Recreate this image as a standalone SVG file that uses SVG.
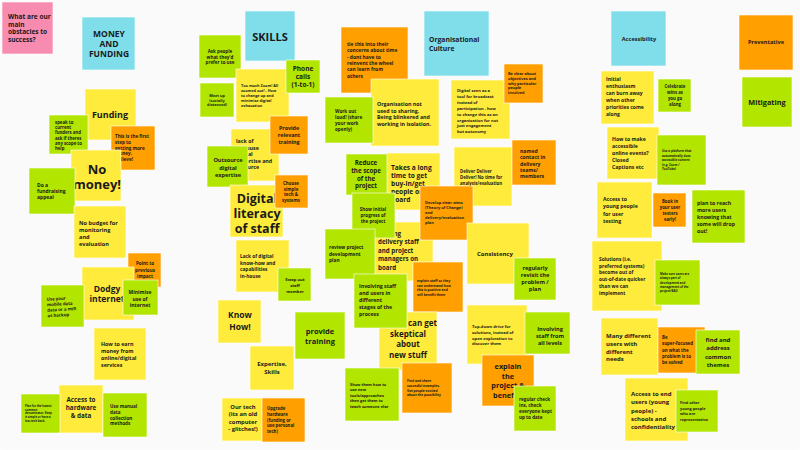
<svg xmlns="http://www.w3.org/2000/svg" width="800" height="450" viewBox="0 0 800 450">
<style>
text{font-family:"Open Sans","Liberation Sans",sans-serif;font-weight:bold;fill:#1a1a1a}
.y{fill:#ffeb3b}.g{fill:#b2e600}.o{fill:#ff9f00}.b{fill:#80deea}.p{fill:#f78bb0}
.m{text-anchor:middle}
rect{stroke:#fff;stroke-width:0.6}
</style>
<rect width="800" height="450" fill="#fafafa" stroke="none"/>
<g id="obstacles"><rect class="p" x="2" y="2" width="51" height="52"/><text font-size="6.5" x="8" y="19"><tspan x="8">What are our</tspan><tspan x="8" dy="7.5">main</tspan><tspan x="8" dy="7.5">obstacles to</tspan><tspan x="8" dy="7.5">success?</tspan></text></g>
<g id="money"><rect class="b" x="82" y="17" width="53" height="53"/><text class="m" font-size="8.5" x="109" y="37"><tspan x="109">MONEY</tspan><tspan x="109" dy="10">AND</tspan><tspan x="109" dy="10">FUNDING</tspan></text></g>
<g id="funding"><rect class="y" x="85" y="89" width="51" height="51"/><text class="m" font-size="9" x="110" y="118">Funding</text></g>
<g id="speak"><rect class="g" x="49" y="115" width="39" height="39"/><text font-size="4.3" x="55" y="124"><tspan x="55">speak to</tspan><tspan x="55" dy="5.2">current</tspan><tspan x="55" dy="5.2">funders and</tspan><tspan x="55" dy="5.2">ask if theres</tspan><tspan x="55" dy="5.2">any scope to</tspan><tspan x="55" dy="5.2">help</tspan></text></g>
<g id="firststep"><rect class="o" x="111" y="126" width="44" height="44"/><text font-size="4.6" x="115" y="138"><tspan x="115">This is the first</tspan><tspan x="115" dy="5.8">step to</tspan><tspan x="115" dy="5.8">getting more</tspan><tspan x="115" dy="5.8">money.</tspan><tspan x="115" dy="5.8">Believe!</tspan></text></g>
<g id="nomoney"><rect class="y" x="71" y="150" width="50" height="51"/><text class="m" font-size="13" x="97" y="174"><tspan x="97">No</tspan><tspan x="97" dy="15">money!</tspan></text></g>
<g id="appeal"><rect class="g" x="29" y="168" width="46" height="46"/><text font-size="5" x="37" y="187"><tspan x="37">Do a</tspan><tspan x="37" dy="6.2">fundraising</tspan><tspan x="37" dy="6.2">appeal</tspan></text></g>
<g id="nobudget"><rect class="y" x="74" y="206" width="52" height="52"/><text font-size="5.6" x="79" y="225"><tspan x="79">No budget for</tspan><tspan x="79" dy="7">monitoring</tspan><tspan x="79" dy="7">and</tspan><tspan x="79" dy="7">evaluation</tspan></text></g>
<g id="point"><rect class="o" x="128" y="253" width="33" height="34"/><text class="m" font-size="4.6" x="145" y="265"><tspan x="145">Point to</tspan><tspan x="145" dy="6.5">previous</tspan><tspan x="145" dy="6.5">impact</tspan></text></g>
<g id="dodgy"><rect class="y" x="82" y="267" width="52" height="53"/><text class="m" font-size="8.5" x="107" y="292"><tspan x="107">Dodgy</tspan><tspan x="107" dy="10">internet</tspan></text></g>
<g id="mobile"><rect class="g" x="41" y="285" width="43" height="42"/><text font-size="4.3" x="47" y="300" transform="rotate(-3 60 305)"><tspan x="47">Use your</tspan><tspan x="47" dy="5.5">mobile data</tspan><tspan x="47" dy="5.5">data or a mifi</tspan><tspan x="47" dy="5.5">as backup</tspan></text></g>
<g id="minimise"><rect class="g" x="123" y="280" width="35" height="35"/><text class="m" font-size="5" x="140" y="294"><tspan x="140">Minimise</tspan><tspan x="140" dy="6.5">use of</tspan><tspan x="140" dy="6.5">internet</tspan></text></g>
<g id="earn"><rect class="y" x="94" y="328" width="52" height="52"/><text font-size="5.3" x="101" y="346"><tspan x="101">How to earn</tspan><tspan x="101" dy="7">money from</tspan><tspan x="101" dy="7">online/digital</tspan><tspan x="101" dy="7">services</tspan></text></g>
<g id="hardware"><rect class="y" x="59" y="385" width="44" height="48"/><text class="m" font-size="6.3" x="81" y="402"><tspan x="81">Access to</tspan><tspan x="81" dy="8">hardware</tspan><tspan x="81" dy="8">&amp; data</tspan></text></g>
<g id="lowest"><rect class="g" x="21" y="394" width="39" height="39"/><text font-size="2.8" x="25" y="407"><tspan x="25">Plan for the lowest</tspan><tspan x="25" dy="3.7">common</tspan><tspan x="25" dy="3.7">denominator. Keep</tspan><tspan x="25" dy="3.7">it simple or have a</tspan><tspan x="25" dy="3.7">low-tech back.</tspan></text></g>
<g id="manual"><rect class="g" x="103" y="393" width="44" height="44"/><text font-size="4.6" x="110" y="408"><tspan x="110">Use manual</tspan><tspan x="110" dy="5.8">data</tspan><tspan x="110" dy="5.8">collection</tspan><tspan x="110" dy="5.8">methods</tspan></text></g>

<g id="skills"><rect class="b" x="245" y="11" width="50" height="50"/><text class="m" font-size="11" x="270" y="41">SKILLS</text></g>
<g id="askpeople"><rect class="g" x="199" y="35" width="42" height="43"/><text class="m" font-size="4.5" x="220" y="53"><tspan x="220">Ask people</tspan><tspan x="220" dy="5.5">what they'd</tspan><tspan x="220" dy="5.5">prefer to use</tspan></text></g>
<g id="zoom"><rect class="y" x="236" y="69" width="53" height="53"/><text font-size="3.8" x="241" y="87"><tspan x="241">Too much Zoom! All</tspan><tspan x="241" dy="5">zoomed out! - How</tspan><tspan x="241" dy="5">to change up and</tspan><tspan x="241" dy="5">minimise digital</tspan><tspan x="241" dy="5">exhaustion</tspan></text></g>
<g id="phone"><rect class="g" x="286" y="60" width="34" height="33"/><text class="m" font-size="6.5" x="303" y="71"><tspan x="303">Phone</tspan><tspan x="303" dy="8">calls</tspan><tspan x="303" dy="8">(1-to-1)</tspan></text></g>
<g id="meetup"><rect class="g" x="200" y="83" width="34" height="34"/><text class="m" font-size="3.8" x="217" y="97"><tspan x="217">Meet up</tspan><tspan x="217" dy="4.5">(socially</tspan><tspan x="217" dy="4.5">distanced)</tspan></text></g>
<g id="inhouse"><rect class="y" x="231" y="129" width="48" height="52"/><text font-size="5.3" x="236" y="143"><tspan x="236">lack of</tspan><tspan x="236" dy="6.6">in-house</tspan><tspan x="236" dy="6.6">digital</tspan><tspan x="236" dy="6.6">expertise and</tspan><tspan x="236" dy="6.6">resource</tspan></text></g>
<g id="relevant"><rect class="o" x="270" y="116" width="38" height="38"/><text class="m" font-size="5.3" x="289" y="130"><tspan x="289">Provide</tspan><tspan x="289" dy="6.8">relevant</tspan><tspan x="289" dy="6.8">training</tspan></text></g>
<g id="outsource"><rect class="g" x="207" y="146" width="41" height="41"/><text class="m" font-size="5.6" x="228" y="162"><tspan x="228">Outsource</tspan><tspan x="228" dy="7.5">digital</tspan><tspan x="228" dy="7.5">expertise</tspan></text></g>
<g id="literacy"><rect class="y" x="230" y="185" width="53" height="52"/><text class="m" font-size="12.5" x="257" y="203"><tspan x="257">Digital</tspan><tspan x="257" dy="15">literacy</tspan><tspan x="257" dy="15">of staff</tspan></text></g>
<g id="simple"><rect class="o" x="275" y="175" width="33" height="33"/><text class="m" font-size="4.4" x="291" y="185"><tspan x="291">Choose</tspan><tspan x="291" dy="5.6">simple</tspan><tspan x="291" dy="5.6">tech &amp;</tspan><tspan x="291" dy="5.6">systems</tspan></text></g>
<g id="knowhow"><rect class="y" x="236" y="240" width="53" height="52"/><text font-size="4.8" x="240" y="258"><tspan x="240">Lack of digital</tspan><tspan x="240" dy="6.5">know-how and</tspan><tspan x="240" dy="6.5">capabilities</tspan><tspan x="240" dy="6.5">in-house</tspan></text></g>
<g id="swap"><rect class="g" x="278" y="268" width="33" height="33"/><text class="m" font-size="4.2" x="295" y="281"><tspan x="295">Swap out</tspan><tspan x="295" dy="5.8">staff</tspan><tspan x="295" dy="5.8">member</tspan></text></g>
<g id="knowhow2"><rect class="y" x="218" y="300" width="43" height="43"/><text class="m" font-size="8.5" x="240" y="318"><tspan x="240">Know</tspan><tspan x="240" dy="12">How!</tspan></text></g>
<g id="providetraining"><rect class="g" x="295" y="312" width="50" height="47"/><text class="m" font-size="7.5" x="320" y="334"><tspan x="320">provide</tspan><tspan x="320" dy="9.5">training</tspan></text></g>
<g id="expertise"><rect class="y" x="250" y="346" width="44" height="44"/><text class="m" font-size="6" x="272" y="366"><tspan x="272">Expertise,</tspan><tspan x="272" dy="7.5">Skills</tspan></text></g>
<g id="ourtech"><rect class="y" x="222" y="398" width="40" height="43"/><text class="m" font-size="5.8" x="243" y="409"><tspan x="243">Our tech</tspan><tspan x="243" dy="7.3">(its an old</tspan><tspan x="243" dy="7.3">computer</tspan><tspan x="243" dy="7.3">- glitches!)</tspan></text></g>
<g id="upgrade"><rect class="o" x="262" y="398" width="43" height="44"/><text font-size="4.3" x="267" y="410"><tspan x="267">Upgrade</tspan><tspan x="267" dy="5.8">hardware</tspan><tspan x="267" dy="5.8">(funding or</tspan><tspan x="267" dy="5.8">use personal</tspan><tspan x="267" dy="5.8">tech)</tspan></text></g>

<g id="culture"><rect class="b" x="424" y="11" width="65" height="65"/><text font-size="6.8" x="429" y="42"><tspan x="429">Organisational</tspan><tspan x="429" dy="8.5">Culture</tspan></text></g>
<g id="tiethis"><rect class="o" x="341" y="27" width="67" height="66"/><text font-size="4.9" x="347" y="46"><tspan x="347">tie this into their</tspan><tspan x="347" dy="6.3">concerns about time</tspan><tspan x="347" dy="6.3">- dont have to</tspan><tspan x="347" dy="6.3">reinvent the wheel</tspan><tspan x="347" dy="6.3">can learn from</tspan><tspan x="347" dy="6.3">others</tspan></text></g>
<g id="sharing"><rect class="y" x="371" y="79" width="68" height="67"/><text font-size="5.3" x="377" y="106"><tspan x="377">Organisation not</tspan><tspan x="377" dy="6.7">used to sharing.</tspan><tspan x="377" dy="6.7">Being blinkered and</tspan><tspan x="377" dy="6.7">working in isolation.</tspan></text></g>
<g id="workout"><rect class="g" x="325" y="97" width="48" height="46"/><text font-size="4.6" x="335" y="113"><tspan x="335">Work out</tspan><tspan x="335" dy="6">loud! (share</tspan><tspan x="335" dy="6">your work</tspan><tspan x="335" dy="6">openly)</tspan></text></g>
<g id="digitalseen"><rect class="y" x="451" y="80" width="59" height="59"/><text font-size="4.1" x="457" y="92"><tspan x="457">Digital seen as a</tspan><tspan x="457" dy="5.9">tool for broadcast</tspan><tspan x="457" dy="5.9">instead of</tspan><tspan x="457" dy="5.9">participation - how</tspan><tspan x="457" dy="5.9">to change this as an</tspan><tspan x="457" dy="5.9">organisation for not</tspan><tspan x="457" dy="5.9">just engagement</tspan><tspan x="457" dy="5.9">but autonomy</tspan></text></g>
<g id="beclear"><rect class="o" x="504" y="64" width="39" height="39"/><text font-size="3.9" x="508" y="75"><tspan x="508">Be clear about</tspan><tspan x="508" dy="4.8">objectives and</tspan><tspan x="508" dy="4.8">why particular</tspan><tspan x="508" dy="4.8">people</tspan><tspan x="508" dy="4.8">involved</tspan></text></g>
<g id="takeslong"><rect class="y" x="386" y="153" width="54" height="57"/><text font-size="6.6" x="391" y="170"><tspan x="391">Takes a long</tspan><tspan x="391" dy="8">time to get</tspan><tspan x="391" dy="8">buy-in/get</tspan><tspan x="391" dy="8">people on</tspan><tspan x="391" dy="8">board</tspan></text></g>
<g id="reduce"><rect class="g" x="346" y="154" width="41" height="41"/><text class="m" font-size="6.2" x="366" y="165"><tspan x="366">Reduce</tspan><tspan x="366" dy="7.8">the scope</tspan><tspan x="366" dy="7.8">of the</tspan><tspan x="366" dy="7.8">project</tspan></text></g>
<g id="deliver"><rect class="y" x="454" y="147" width="58" height="59"/><text font-size="4.3" x="460" y="173"><tspan x="460">Deliver Deliver</tspan><tspan x="460" dy="5.8">Deliver! No time for</tspan><tspan x="460" dy="5.8">analysis/evaluation</tspan></text></g>
<g id="named"><rect class="o" x="512" y="140" width="44" height="45"/><text font-size="5.1" x="520" y="153"><tspan x="520">named</tspan><tspan x="520" dy="6.3">contact in</tspan><tspan x="520" dy="6.3">delivery</tspan><tspan x="520" dy="6.3">teams/</tspan><tspan x="520" dy="6.3">members</tspan></text></g>
<g id="gettingstaff"><rect class="y" x="374" y="222" width="59" height="59"/><text font-size="6.2" x="378" y="236"><tspan x="378">Getting</tspan><tspan x="378" dy="8.4">delivery staff</tspan><tspan x="378" dy="8.4">and project</tspan><tspan x="378" dy="8.4">managers on</tspan><tspan x="378" dy="8.4">board</tspan></text></g>
<g id="aims"><rect class="o" x="420" y="186" width="53" height="54"/><text font-size="4" x="425" y="204"><tspan x="425">Develop clear aims</tspan><tspan x="425" dy="5">(Theory of Change)</tspan><tspan x="425" dy="5">and</tspan><tspan x="425" dy="5">delivery/evaluation</tspan><tspan x="425" dy="5">plan</tspan></text></g>
<g id="showinitial"><rect class="g" x="352" y="193" width="43" height="45"/><text class="m" font-size="4.5" x="373" y="211"><tspan x="373">Show initial</tspan><tspan x="373" dy="6">progress of</tspan><tspan x="373" dy="6">the project</tspan></text></g>
<g id="review"><rect class="g" x="325" y="229" width="50" height="50"/><text font-size="4.8" x="329" y="249"><tspan x="329">review project</tspan><tspan x="329" dy="6.6">development</tspan><tspan x="329" dy="6.6">plan</tspan></text></g>
<g id="consistency"><rect class="y" x="467" y="223" width="62" height="61"/><text font-size="6" x="477" y="256">Consistency</text></g>
<g id="revisit"><rect class="g" x="514" y="258" width="42" height="42"/><text class="m" font-size="5.6" x="535" y="270"><tspan x="535">regularly</tspan><tspan x="535" dy="7">revisit the</tspan><tspan x="535" dy="7">problem /</tspan><tspan x="535" dy="7">plan</tspan></text></g>
<g id="explainstaff"><rect class="o" x="413" y="262" width="50" height="50"/><text font-size="3.3" x="417" y="282"><tspan x="417">explain staff so they</tspan><tspan x="417" dy="4.6">can understand how</tspan><tspan x="417" dy="4.6">this is positive and</tspan><tspan x="417" dy="4.6">will benefit them</tspan></text></g>
<g id="skeptical"><rect class="y" x="379" y="312" width="58" height="58"/><text class="m" font-size="8" x="408" y="326"><tspan x="408">People can get</tspan><tspan x="408" dy="10.7">skeptical</tspan><tspan x="408" dy="10.7">about</tspan><tspan x="408" dy="10.7">new stuff</tspan></text></g>
<g id="involving"><rect class="g" x="354" y="274" width="53" height="54"/><text font-size="5.2" x="359" y="288"><tspan x="359">Involving staff</tspan><tspan x="359" dy="7">and users in</tspan><tspan x="359" dy="7">different</tspan><tspan x="359" dy="7">stages of the</tspan><tspan x="359" dy="7">process</tspan></text></g>
<g id="topdown"><rect class="y" x="467" y="305" width="60" height="59"/><text font-size="4.1" x="472" y="328"><tspan x="472">Top-down drive for</tspan><tspan x="472" dy="5.8">solutions, instead of</tspan><tspan x="472" dy="5.8">open exploration to</tspan><tspan x="472" dy="5.8">discover them</tspan></text></g>
<g id="alllevels"><rect class="g" x="525" y="312" width="45" height="42"/><text class="m" font-size="5.6" x="550" y="331"><tspan x="550">Involving</tspan><tspan x="550" dy="7">staff from</tspan><tspan x="550" dy="7">all levels</tspan></text></g>
<g id="explainproject"><rect class="o" x="482" y="355" width="52" height="51"/><text class="m" font-size="7.3" x="508" y="369"><tspan x="508">explain</tspan><tspan x="508" dy="9.5">the</tspan><tspan x="508" dy="9.5">project &amp;</tspan><tspan x="508" dy="9.5">benefits</tspan></text></g>
<g id="showthem"><rect class="g" x="345" y="368" width="54" height="53"/><text font-size="3.9" x="350" y="386"><tspan x="350">Show them how to</tspan><tspan x="350" dy="5.4">use new</tspan><tspan x="350" dy="5.4">tools/approaches</tspan><tspan x="350" dy="5.4">then get them to</tspan><tspan x="350" dy="5.4">teach someone else</tspan></text></g>
<g id="findshare"><rect class="o" x="402" y="363" width="50" height="50"/><text font-size="3.3" x="407" y="382"><tspan x="407">Find and share</tspan><tspan x="407" dy="4.8">succesful examples.</tspan><tspan x="407" dy="4.8">Get people excited</tspan><tspan x="407" dy="4.8">about the possibility</tspan></text></g>
<g id="checkins"><rect class="g" x="514" y="386" width="42" height="45"/><text font-size="4.6" x="519" y="401"><tspan x="519">regular check</tspan><tspan x="519" dy="6">ins, check</tspan><tspan x="519" dy="6">everyone kept</tspan><tspan x="519" dy="6">up to date</tspan></text></g>

<g id="accessibility"><rect class="b" x="611" y="11" width="55" height="55"/><text class="m" font-size="5.6" x="639" y="41">Accessibility</text></g>
<g id="preventative"><rect class="o" x="739" y="15" width="54" height="55"/><text class="m" font-size="5.6" x="766" y="44">Preventative</text></g>
<g id="mitigating"><rect class="g" x="742" y="77" width="50" height="50"/><text class="m" font-size="7.3" x="767" y="105">Mitigating</text></g>
<g id="enthusiasm"><rect class="y" x="601" y="71" width="53" height="53"/><text font-size="5" x="606" y="81"><tspan x="606">Initial</tspan><tspan x="606" dy="7">enthusiasm</tspan><tspan x="606" dy="7">can burn away</tspan><tspan x="606" dy="7">when other</tspan><tspan x="606" dy="7">priorities come</tspan><tspan x="606" dy="7">along</tspan></text></g>
<g id="celebrate"><rect class="g" x="658" y="79" width="33" height="33"/><text class="m" font-size="4.3" x="675" y="88"><tspan x="675">Celebrate</tspan><tspan x="675" dy="6">wins as</tspan><tspan x="675" dy="6">you go</tspan><tspan x="675" dy="6">along</tspan></text></g>
<g id="events"><rect class="y" x="607" y="127" width="52" height="52"/><text font-size="5.1" x="612" y="141"><tspan x="612">How to make</tspan><tspan x="612" dy="7">accessible</tspan><tspan x="612" dy="7">online events?</tspan><tspan x="612" dy="7">Closed</tspan><tspan x="612" dy="7">Captions etc</tspan></text></g>
<g id="platform"><rect class="g" x="657" y="135" width="49" height="50"/><text font-size="3" x="662" y="152"><tspan x="662">Use a platform that</tspan><tspan x="662" dy="4.6">automatically does</tspan><tspan x="662" dy="4.6">accessible content</tspan><tspan x="662" dy="4.6">(e.g. Zoom /</tspan><tspan x="662" dy="4.6">YouTube)</tspan></text></g>
<g id="youngtesting"><rect class="y" x="597" y="182" width="55" height="56"/><text font-size="5.2" x="603" y="201"><tspan x="603">Access to</tspan><tspan x="603" dy="7.3">young people</tspan><tspan x="603" dy="7.3">for user</tspan><tspan x="603" dy="7.3">testing</tspan></text></g>
<g id="bookin"><rect class="o" x="653" y="193" width="33" height="34"/><text class="m" font-size="4.3" x="670" y="203"><tspan x="670">Book in</tspan><tspan x="670" dy="6">your user</tspan><tspan x="670" dy="6">testers</tspan><tspan x="670" dy="6">early!</tspan></text></g>
<g id="planreach"><rect class="g" x="692" y="190" width="53" height="53"/><text font-size="5.2" x="697" y="205"><tspan x="697">plan to reach</tspan><tspan x="697" dy="7">more users</tspan><tspan x="697" dy="7">knowing that</tspan><tspan x="697" dy="7">some will drop</tspan><tspan x="697" dy="7">out!</tspan></text></g>
<g id="solutions"><rect class="y" x="592" y="241" width="70" height="70"/><text font-size="4.8" x="599" y="261"><tspan x="599">Solutions (i.e.</tspan><tspan x="599" dy="6.7">preferred systems)</tspan><tspan x="599" dy="6.7">become out of</tspan><tspan x="599" dy="6.7">out-of-date quicker</tspan><tspan x="599" dy="6.7">than we can</tspan><tspan x="599" dy="6.7">implement</tspan></text></g>
<g id="makesure"><rect class="g" x="655" y="260" width="45" height="45"/><text font-size="2.9" x="660" y="275"><tspan x="660">Make sure users are</tspan><tspan x="660" dy="4.3">always part of</tspan><tspan x="660" dy="4.3">development and</tspan><tspan x="660" dy="4.3">management of the</tspan><tspan x="660" dy="4.3">project/BAU</tspan></text></g>
<g id="manyusers"><rect class="y" x="601" y="318" width="57" height="57"/><text font-size="6" x="606" y="338"><tspan x="606">Many different</tspan><tspan x="606" dy="7.8">users with</tspan><tspan x="606" dy="7.8">different</tspan><tspan x="606" dy="7.8">needs</tspan></text></g>
<g id="superfocused"><rect class="o" x="658" y="327" width="47" height="46"/><text font-size="4.4" x="662" y="339"><tspan x="662">Be</tspan><tspan x="662" dy="6.3">super-focused</tspan><tspan x="662" dy="6.3">on what the</tspan><tspan x="662" dy="6.3">problem is to</tspan><tspan x="662" dy="6.3">be solved</tspan></text></g>
<g id="themes"><rect class="g" x="696" y="330" width="44" height="44"/><text class="m" font-size="6" x="718" y="342"><tspan x="718">find and</tspan><tspan x="718" dy="8.3">address</tspan><tspan x="718" dy="8.3">common</tspan><tspan x="718" dy="8.3">themes</tspan></text></g>
<g id="endusers"><rect class="y" x="625" y="378" width="63" height="63"/><text font-size="6" x="631" y="396"><tspan x="631">Access to end</tspan><tspan x="631" dy="8.3">users (young</tspan><tspan x="631" dy="8.3">people) -</tspan><tspan x="631" dy="8.3">schools and</tspan><tspan x="631" dy="8.3">confidentiality</tspan></text></g>
<g id="findother"><rect class="g" x="676" y="390" width="42" height="42"/><text font-size="3.8" x="680" y="404"><tspan x="680">Find other</tspan><tspan x="680" dy="5.6">young people</tspan><tspan x="680" dy="5.6">who are</tspan><tspan x="680" dy="5.6">representative</tspan></text></g>
<g id="connectors"></g>
</svg>
